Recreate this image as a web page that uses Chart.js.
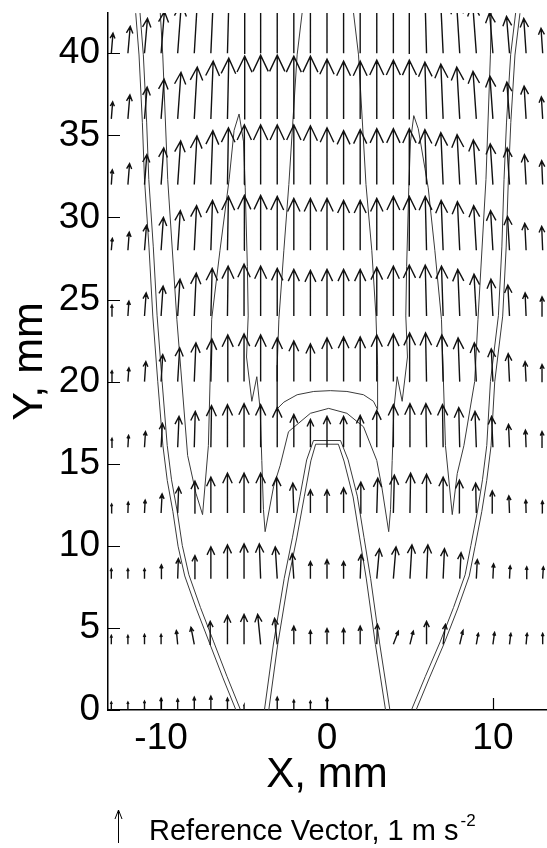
<!DOCTYPE html>
<html>
<head>
<meta charset="utf-8">
<script src="https://cdn.jsdelivr.net/npm/chart.js@4.4.0/dist/chart.umd.min.js"></script>
<style>
  html, body { margin: 0; padding: 0; background: #fff; }
  canvas { display: block; }
</style>
</head>
<body>
<canvas id="vectorChart" width="547" height="848"></canvas>
<script>
// grid of the vector field, mm
const colX = [-13,-12,-11,-10,-9,-8,-7,-6,-5,-4,-3,-2,-1,0,1,2,3,4,5,6,7,8,9,10,11,12,13];
const rowY = [0, 4, 8, 12, 16, 20, 24, 28, 32, 36, 40];

// vertical acceleration component per row, m s^-2
const ay0  = [0.24,0.24,0.27,0.36,0.33,0.39,0.42,0.36,0.15,0,0.39,0.30,0.27,0.36,0,0,0,0,0,0,0,0,0,0,0,0,0];
const ay4  = [0.27,0.27,0.30,0.30,0.42,0.52,0.70,0.88,0.91,0.91,0.79,0.55,0.42,0.48,0.48,0.55,0.61,0.40,0.40,0.70,0.61,0.42,0.33,0.36,0.33,0.33,0.33];
const ay8  = [0.30,0.30,0.30,0.42,0.61,0.70,0.97,1.03,1.06,1.06,0.97,0.76,0.52,0.58,0.52,0.73,0.91,0.97,1.03,1.03,0.91,0.79,0.58,0.45,0.39,0.36,0.36];
const ay12 = [0.27,0.33,0.39,0.58,0.79,0.97,1.09,1.21,1.21,1.21,1.09,0.91,0.70,0.70,0.76,0.94,1.06,1.15,1.21,1.18,1.09,1.00,0.91,0.67,0.52,0.39,0.36];
const ay16 = [0.27,0.36,0.48,0.73,0.94,1.09,1.27,1.30,1.33,1.30,1.21,1.00,0.85,0.94,0.94,0.97,1.12,1.30,1.33,1.33,1.30,1.21,1.09,0.94,0.70,0.52,0.48];
const ay20 = [0.33,0.42,0.61,0.82,1.03,1.18,1.30,1.42,1.45,1.42,1.33,1.24,1.15,1.33,1.36,1.36,1.42,1.45,1.48,1.48,1.42,1.33,1.18,1.00,0.85,0.61,0.52];
const ay24 = [0.33,0.45,0.70,0.91,1.12,1.30,1.45,1.52,1.58,1.52,1.45,1.42,1.39,1.42,1.42,1.42,1.48,1.52,1.55,1.55,1.52,1.42,1.27,1.12,0.94,0.70,0.58];
const ay28 = [0.36,0.55,0.76,1.00,1.21,1.36,1.52,1.64,1.67,1.67,1.64,1.58,1.58,1.58,1.52,1.52,1.58,1.64,1.64,1.64,1.52,1.48,1.36,1.21,1.03,0.82,0.73];
const ay32 = [0.45,0.64,0.91,1.12,1.33,1.48,1.64,1.73,1.82,1.82,1.82,1.82,1.79,1.73,1.64,1.67,1.70,1.70,1.70,1.67,1.58,1.52,1.36,1.24,1.12,0.91,0.73];
const ay36 = [0.52,0.73,0.97,1.21,1.42,1.58,1.76,1.85,1.91,1.94,1.94,1.91,1.91,1.82,1.76,1.76,1.79,1.79,1.79,1.73,1.67,1.58,1.45,1.30,1.12,1.00,0.67];
const ay40 = [0.61,0.82,1.06,1.27,1.52,1.70,1.82,1.91,1.97,2.00,2.00,2.00,1.97,1.94,1.91,1.91,1.91,1.91,1.88,1.82,1.70,1.61,1.52,1.24,1.12,1.06,0.76];

// horizontal component per row, m s^-2
const ax0  = [0,0,0,0,0,0,0,0,0,0,0,0,0,0,0,0,0,0,0,0,0,0,0,0,0,0,0];
const ax4  = [0,0,0,0,-0.04,-0.10,-0.02,0,0,-0.09,-0.08,0,0,0,0,0,0.02,0.15,0.10,0,0.07,0.10,0.06,0.05,0.04,0.03,0];
const ax8  = [0,0,0,0.01,0.02,0.02,0,0,0,-0.04,-0.06,-0.05,0,0,0,0.03,0.08,0.08,0.06,0.04,0.04,0.04,0.03,0.02,0.02,0.02,0.02];
const ax12 = [0.01,0.01,0.02,0.03,0.03,0.02,0,0,0,0,-0.02,-0.03,0,0,0,0.02,0.03,0.03,0.02,0,0,-0.01,-0.02,-0.02,-0.02,-0.01,-0.01];
const ax16 = [0.02,0.02,0.03,0.04,0.04,0.03,0.02,0,0,0,0,0,0,0,0,0,0,0,0,-0.02,-0.02,-0.03,-0.04,-0.04,-0.03,-0.02,-0.02];
const ax20 = [0.02,0.03,0.04,0.05,0.06,0.05,0.03,0.01,0,0,0,0,0,0,0,0,0,0,-0.01,-0.03,-0.04,-0.05,-0.06,-0.05,-0.04,-0.03,-0.02];
const ax24 = [0.02,0.03,0.05,0.06,0.07,0.06,0.04,0.02,0,0,0,0,0,0,0,0,0,0,-0.02,-0.04,-0.05,-0.06,-0.07,-0.06,-0.05,-0.03,-0.02];
const ax28 = [0.03,0.04,0.06,0.07,0.08,0.07,0.05,0.03,0.01,0,0,0,0,0,0,0,0,0,-0.02,-0.04,-0.06,-0.07,-0.08,-0.07,-0.06,-0.04,-0.03];
const ax32 = [0.03,0.05,0.07,0.08,0.09,0.08,0.06,0.03,0.01,0,0,0,0,0,0,0,0,0,-0.02,-0.05,-0.07,-0.08,-0.09,-0.08,-0.07,-0.05,-0.03];
const ax36 = [0.04,0.06,0.08,0.09,0.10,0.09,0.07,0.04,0.02,0,0,0,0,0,0,0,0,0,-0.02,-0.05,-0.07,-0.09,-0.10,-0.09,-0.08,-0.06,-0.04];
const ax40 = [0.05,0.07,0.09,0.10,0.11,0.10,0.08,0.05,0.02,0,0,0,0,0,0,0,0,0,-0.02,-0.05,-0.08,-0.10,-0.11,-0.10,-0.09,-0.07,-0.05];

// contour lines, mm
const outerLeftX  = [-5.35,-6.15,-6.95,-7.75,-8.45,-8.85,-9.16,-9.5,-9.76,-10.07,-10.37,-10.6,-10.87,-11.0,-11.2,-11.4];
const outerLeftY  = [0,2,4.1,6.2,8.2,10,12.1,14,16.1,20,24,28.2,32.3,35.8,39.9,42.45];
const outerRightX = [5.23,6.05,6.94,7.75,8.45,8.8,9.2,9.5,9.76,9.98,10.46,10.67,10.8,10.95,11.2,11.5];
const outerRightY = [0,2,4.1,6.2,8.2,10,12.1,14,16.1,20,24,28.2,32.3,35.8,39.9,42.45];
const innerArchX  = [-3.64,-3.1,-2.45,-1.95,-1.5,-1.1,-0.75,0.75,1.15,1.7,2.1,2.5,3.05,3.66];
const innerArchY  = [0,4,8,10.5,13,15.2,16.3,16.3,15.2,13,10.5,8,4,0];
const waveX = [-10.05,-9.9,-9.6,-9.05,-8.4,-7.9,-7.5,-7.15,-6.95,-6.45,-5.9,-5.6,-5.3,-5.03,-4.93,-4.8,-4.75,-4.85,-4.53,-4.23,-4.03,-3.93,-3.83,-3.73,-3.22,-2.82,-2.32,-1.0,0.1,1.2,2.2,3.0,3.3,3.72,3.83,3.93,4.03,4.23,4.53,4.85,4.75,4.8,4.93,5.03,5.23,5.5,5.9,6.1,6.5,6.9,7.14,7.55,7.85,8.25,8.9,9.1,9.58,9.85,9.9];
const waveY = [42.45,39.9,32.3,23.8,15.5,13.2,11.9,16.1,23.8,28,32.3,35.3,36.3,34.6,31.8,27,24,21.5,18.8,20.3,18.3,15.2,12.2,10.86,13.6,14.9,16.95,18.07,18.37,18.07,17.25,15.2,13.6,10.86,12.2,15.2,18.3,20.3,18.8,21.5,24,27,31.8,34.6,36.2,35.4,33,31.8,28,23.8,16.1,11.9,14.4,16.1,20,23.8,32.3,39.9,42.45];
const capX = [-1.5,-1.8,-2.3,-2.6,-2.9,-3.0,-3.0,-2.6,-1.8,-0.8,0.2,1.2,2.2,2.8,3.05,3.05,2.95,2.7,2.35,1.9,1.6];
const capY = [42.45,39.9,32,28,23.8,21,18.35,18.75,19.2,19.4,19.45,19.4,19.2,18.8,18.3,21,24,28,32,39.9,42.45];

const xTickLabels = [-10, 0, 10];
const yTickLabels = [0, 5, 10, 15, 20, 25, 30, 35, 40];

const MM_PER_UNIT = 2.0;   // 1 m s^-2 drawn as 2 mm
const HEAD_FRAC = 0.28;
const HEAD_ANGLE = 25 * Math.PI / 180;
const FONT = '"Liberation Sans", Arial, Helvetica, sans-serif';

const rowsAy = [ay0, ay4, ay8, ay12, ay16, ay20, ay24, ay28, ay32, ay36, ay40];
const rowsAx = [ax0, ax4, ax8, ax12, ax16, ax20, ax24, ax28, ax32, ax36, ax40];

function gap() { return { x: null, y: null }; }

const arrowPts = [];
rowY.forEach((y0, r) => {
  colX.forEach((x0, c) => {
    const u = rowsAx[r][c], v = rowsAy[r][c];
    const mag = Math.hypot(u, v);
    if (!mag) return;
    const x1 = x0 + u * MM_PER_UNIT, y1 = y0 + v * MM_PER_UNIT;
    const head = mag * MM_PER_UNIT * HEAD_FRAC;
    const ang = Math.atan2(v, u);
    const wing = a => ({ x: x1 - head * Math.cos(ang + a), y: y1 - head * Math.sin(ang + a) });
    arrowPts.push({ x: x0, y: y0 }, { x: x1, y: y1 }, gap(),
                  wing(HEAD_ANGLE), { x: x1, y: y1 }, wing(-HEAD_ANGLE), gap());
  });
});

function zipPts(xs, ys) { return xs.map((x, i) => ({ x: x, y: ys[i] })); }

// the double contours: two lines either side of the read centre line
function offsetPts(xs, ys, d) {
  return xs.map((x, i) => {
    const a = Math.max(i - 1, 0), b = Math.min(i + 1, xs.length - 1);
    const dx = xs[b] - xs[a], dy = ys[b] - ys[a];
    const n = Math.hypot(dx, dy) || 1;
    return { x: x - dy / n * d, y: ys[i] + dx / n * d };
  });
}

function contour(data) {
  return { data: data, showLine: true, borderColor: '#3a3a3a', borderWidth: 1,
           pointRadius: 0, pointHoverRadius: 0, spanGaps: false };
}

const insideTicks = {
  id: 'insideTicks',
  afterDraw(chart) {
    const { ctx, chartArea, scales: { x, y } } = chart;
    ctx.save();
    ctx.strokeStyle = '#000';
    ctx.lineWidth = 1.2;
    ctx.beginPath();
    y.ticks.forEach(t => {
      if (!Number.isInteger(t.value)) return;
      const py = Math.round(y.getPixelForValue(t.value)) + 0.5;
      const len = t.value % 5 === 0 ? 12 : 6;
      ctx.moveTo(chartArea.left, py);
      ctx.lineTo(chartArea.left + len, py);
    });
    x.ticks.forEach(t => {
      if (!Number.isInteger(t.value)) return;
      const px = Math.round(x.getPixelForValue(t.value)) + 0.5;
      const len = t.value % 10 === 0 ? 12 : 5;
      ctx.moveTo(px, chartArea.bottom);
      ctx.lineTo(px, chartArea.bottom - len);
    });
    ctx.stroke();

    // reference vector key
    ctx.lineWidth = 1;
    ctx.beginPath();
    ctx.moveTo(118.5, 843);
    ctx.lineTo(118.5, 810);
    ctx.moveTo(115, 819);
    ctx.lineTo(118.5, 810);
    ctx.lineTo(122, 819);
    ctx.stroke();
    ctx.fillStyle = '#000';
    ctx.textBaseline = 'alphabetic';
    ctx.font = '29px ' + FONT;
    const label = 'Reference Vector, 1 m s';
    ctx.fillText(label, 149, 840);
    const w = ctx.measureText(label).width;
    ctx.font = '17px ' + FONT;
    ctx.fillText('-2', 149 + w + 2, 826);
    ctx.restore();
  }
};

new Chart(document.getElementById('vectorChart'), {
  type: 'scatter',
  data: {
    datasets: [
      { data: arrowPts, showLine: true, borderColor: '#111', borderWidth: 1.4,
        pointRadius: 0, pointHoverRadius: 0, spanGaps: false },
      contour(offsetPts(outerLeftX, outerLeftY, 0.13)),
      contour(offsetPts(outerLeftX, outerLeftY, -0.13)),
      contour(offsetPts(outerRightX, outerRightY, 0.13)),
      contour(offsetPts(outerRightX, outerRightY, -0.13)),
      contour(offsetPts(innerArchX, innerArchY, 0.13)),
      contour(offsetPts(innerArchX, innerArchY, -0.13)),
      contour(zipPts(waveX, waveY)),
      contour(zipPts(capX, capY))
    ]
  },
  options: {
    responsive: false,
    animation: false,
    events: [],
    layout: { padding: { top: 13, right: 1, bottom: 38, left: 0 } },
    plugins: { legend: { display: false }, tooltip: { enabled: false } },
    scales: {
      x: {
        type: 'linear', min: -13.2, max: 13.2,
        grid: { drawOnChartArea: false, drawTicks: false },
        border: { display: true, color: '#000', width: 1.5 },
        ticks: {
          stepSize: 2, autoSkip: false, maxRotation: 0, padding: 7, color: '#000',
          font: { family: FONT, size: 37 },
          callback: v => xTickLabels.includes(v) ? String(v) : null
        },
        title: { display: true, text: 'X, mm', color: '#000',
                 font: { family: FONT, size: 42 }, padding: { top: 0, bottom: 9 } },
        afterFit: s => { s.height = 100; s.paddingLeft = 0; s.paddingRight = 0; }
      },
      y: {
        type: 'linear', min: 0, max: 42.45,
        grid: { drawOnChartArea: false, drawTicks: false },
        border: { display: true, color: '#000', width: 1.5 },
        ticks: {
          stepSize: 1, autoSkip: false, maxTicksLimit: 100, padding: 8, color: '#000',
          font: { family: FONT, size: 37 },
          callback: v => yTickLabels.includes(v) ? String(v) : null
        },
        title: { display: true, text: 'Y, mm', color: '#000',
                 font: { family: FONT, size: 43 }, padding: { top: 4, bottom: 0 } },
        afterFit: s => { s.width = 108; s.paddingTop = 0; s.paddingBottom = 0; }
      }
    }
  },
  plugins: [insideTicks]
});
</script>
</body>
</html>
